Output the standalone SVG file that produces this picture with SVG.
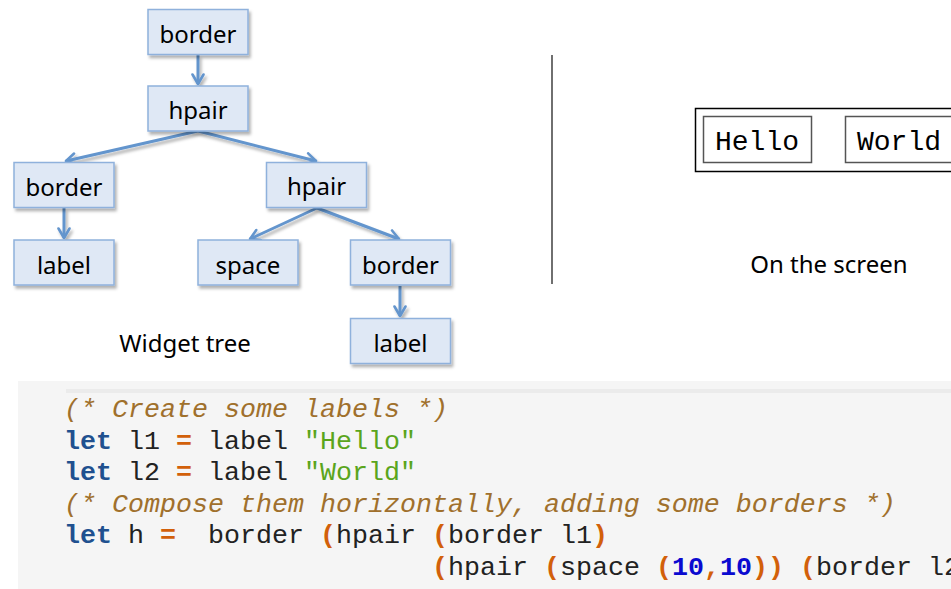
<svg xmlns="http://www.w3.org/2000/svg" width="951" height="589" viewBox="0 0 951 589">
<defs>
<filter id="sh" x="-20%" y="-20%" width="150%" height="160%">
<feDropShadow dx="2" dy="3" stdDeviation="1.5" flood-color="#000" flood-opacity="0.3"/>
</filter>
<marker id="ah" viewBox="0 0 14 14" refX="11.5" refY="7" markerWidth="14" markerHeight="14" markerUnits="userSpaceOnUse" orient="auto">
<path d="M2,1.5 L11.5,7 L2,12.5" fill="none" stroke="#6495cd" stroke-width="2.6" stroke-linecap="round" stroke-linejoin="round"/>
</marker>
</defs>
<style>
.node rect{fill:#dfe8f5;stroke:#8fb1dc;stroke-width:1.5;filter:url(#sh)}
.node text{font-family:"Noto Sans","Open Sans",sans-serif;font-size:24px;fill:#000;text-anchor:middle}
.cap{font-family:"Noto Sans","Open Sans",sans-serif;font-size:24px;fill:#000;text-anchor:middle}
.edge{stroke:#6495cd;stroke-width:3;fill:none;marker-end:url(#ah)}
.code{font-family:"Liberation Mono","Courier New",monospace;font-size:26.667px;fill:#222}
.cm{fill:#a0702c;font-style:italic}
.kw{fill:#20508f;font-weight:bold}
.op{fill:#d2600a;font-weight:bold}
.st{fill:#5aa51c}
.nm{fill:#0a0ad0;font-weight:bold}
.scr{font-family:"Liberation Mono","Courier New",monospace;font-size:28px;fill:#000;text-anchor:middle}
</style>
<rect width="951" height="589" fill="#fff"/>

<g id="connectors" filter="url(#sh)">
<line class="edge" x1="198" y1="55" x2="198" y2="84"/>
<line class="edge" x1="198" y1="131" x2="66" y2="161"/>
<line class="edge" x1="198" y1="131" x2="316" y2="161"/>
<line class="edge" x1="64" y1="208" x2="64" y2="238"/>
<line class="edge" x1="317" y1="208" x2="250" y2="239"/>
<line class="edge" x1="317" y1="208" x2="399" y2="239"/>
<line class="edge" x1="400" y1="286" x2="400" y2="316"/>
</g>

<g id="n-border-top" class="node"><rect x="148" y="9.5" width="100" height="45"/><text x="198" y="43">border</text></g>
<g id="n-hpair-top" class="node"><rect x="148" y="86" width="100" height="45"/><text x="198" y="119">hpair</text></g>
<g id="n-border-left" class="node"><rect x="14" y="162.5" width="100" height="45"/><text x="64" y="196">border</text></g>
<g id="n-hpair-right" class="node"><rect x="266.5" y="162.5" width="100" height="45"/><text x="316.5" y="195">hpair</text></g>
<g id="n-label-left" class="node"><rect x="14" y="240" width="100" height="45"/><text x="64" y="274">label</text></g>
<g id="n-space" class="node"><rect x="198" y="240" width="100" height="45"/><text x="248" y="274">space</text></g>
<g id="n-border-right" class="node"><rect x="350.5" y="240" width="100" height="45"/><text x="400.5" y="274">border</text></g>
<g id="n-label-bottom" class="node"><rect x="350.5" y="318.5" width="100" height="45"/><text x="400.5" y="352">label</text></g>

<text class="cap" x="185" y="352">Widget tree</text>

<line x1="552" y1="55" x2="552" y2="284" stroke="#222" stroke-width="1.3"/>

<g id="screen">
<rect x="695.5" y="108.5" width="270" height="63" fill="#fff" stroke="#000" stroke-width="1.5"/>
<rect x="703.5" y="116.5" width="108" height="46" fill="#fff" stroke="#555" stroke-width="1.5"/>
<rect x="845.5" y="116.5" width="130" height="46" fill="#fff" stroke="#555" stroke-width="1.5"/>
<text class="scr" x="757" y="150">Hello</text>
<text class="scr" x="899" y="150">World</text>
</g>
<text class="cap" x="829" y="273">On the screen</text>

<g id="code">
<rect x="18" y="381" width="940" height="210" fill="#f5f5f5"/>
<rect x="66" y="389" width="890" height="4" fill="#ebebeb"/>
<text class="code" xml:space="preserve"><tspan class="cm" x="64" y="417">(* Create some labels *)</tspan><tspan x="64" y="448.5"><tspan class="kw">let</tspan> l1 <tspan class="op">=</tspan> label <tspan class="st">"Hello"</tspan></tspan><tspan x="64" y="480"><tspan class="kw">let</tspan> l2 <tspan class="op">=</tspan> label <tspan class="st">"World"</tspan></tspan><tspan class="cm" x="64" y="511.5">(* Compose them horizontally, adding some borders *)</tspan><tspan x="64" y="543"><tspan class="kw">let</tspan> h <tspan class="op">=</tspan>  border <tspan class="op">(</tspan>hpair <tspan class="op">(</tspan>border l1<tspan class="op">)</tspan></tspan><tspan x="432" y="574.5"><tspan class="op">(</tspan>hpair <tspan class="op">(</tspan>space <tspan class="op">(</tspan><tspan class="nm">10</tspan><tspan class="op">,</tspan><tspan class="nm">10</tspan><tspan class="op">))</tspan> <tspan class="op">(</tspan>border l2<tspan class="op">))</tspan></tspan></text>
</g>
</svg>
